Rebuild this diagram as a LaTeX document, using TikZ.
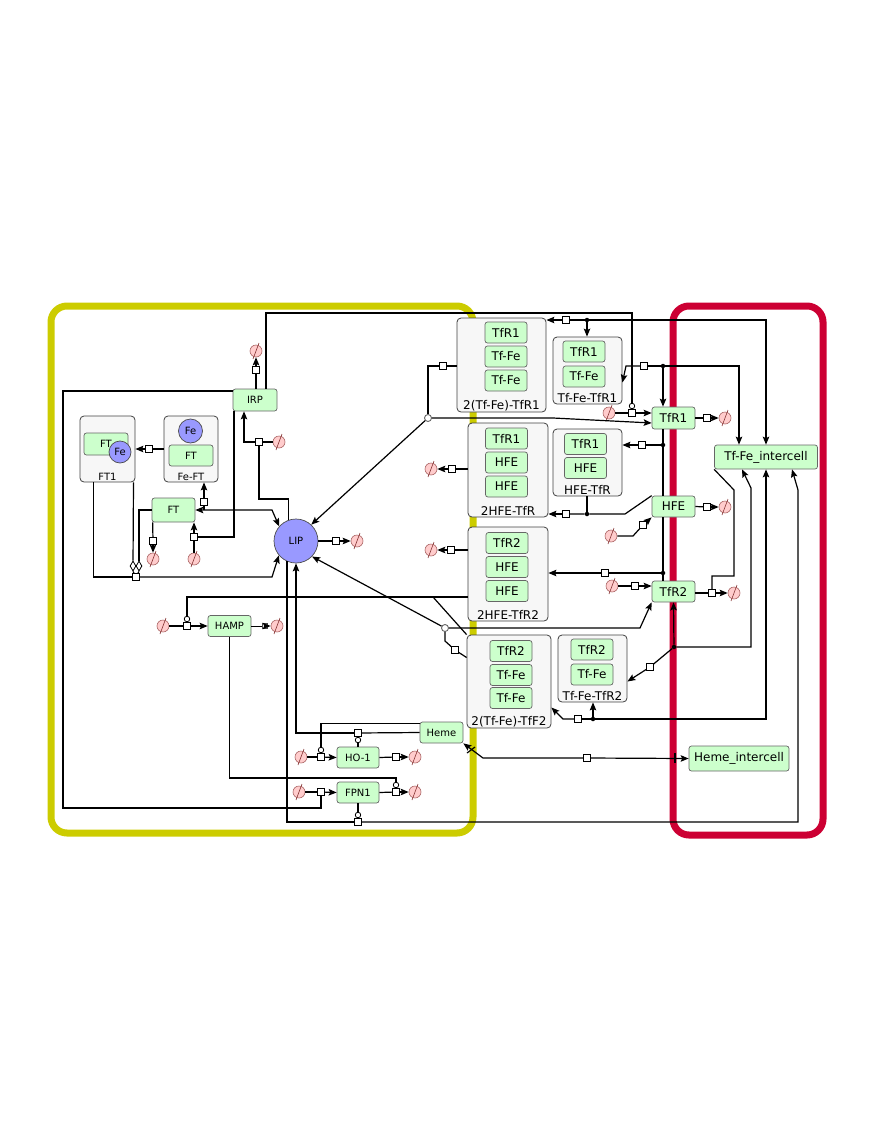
\documentclass[tikz,border=0pt]{standalone}
\usepackage{fontspec}
\setmainfont{DejaVu Sans}
\usetikzlibrary{arrows.meta,shapes.geometric}
\definecolor{protgreen}{RGB}{204,255,204}
\definecolor{cplxgray}{RGB}{247,247,247}
\definecolor{lipblue}{RGB}{153,153,255}
\definecolor{degpink}{RGB}{255,204,204}
\definecolor{cmpyellow}{RGB}{204,204,0}
\definecolor{cmpred}{RGB}{204,0,51}

\begin{document}
\begin{tikzpicture}[x=1pt,y=-1pt,>={Stealth[length=8pt,width=6.5pt,inset=1.5pt]}]
	\tikzset{
	%Define style for proteins
	prot/.style={
		rectangle,
		rounded corners=2.5pt,
		draw=black!60, line width=0.7pt,
		fill=protgreen,
		minimum width=43pt,
		minimum height=21pt,
		inner sep=1pt,
		font=\fontsize{10}{11}\selectfont},
	% big proteins and proteins inside complexes
	bigprot/.style={prot, minimum width=42pt, font=\fontsize{12}{13}\selectfont},
	% Define style for complexes
	cplx/.style={
		rectangle,
		rounded corners=4pt,
		draw=black!75, line width=0.8pt,
		fill=cplxgray},
	clab/.style={anchor=south, inner sep=1.5pt, font=\fontsize{12}{13}\selectfont},
	% Define style for degradation
	degr/.style={
		circle,
		draw=red!45!black!60, line width=0.6pt,
		fill=degpink,
		minimum size=12pt,
		inner sep=0pt,
		append after command={([xshift=-3pt,yshift=-8pt]\tikzlastnode.center) edge[red!40!black!80, line width=0.6pt] ([xshift=3pt,yshift=8pt]\tikzlastnode.center)}}
}
\tikzstyle{proc} = [rectangle, draw, fill=white, line width=0.9pt, minimum size=6.5pt, inner sep=0pt]
\tikzstyle{assoc} = [circle, fill=black, minimum size=4.5pt, inner sep=0pt]
\tikzstyle{dissoc} = [circle, draw=black!60, fill=white, line width=0.9pt, minimum size=7pt, inner sep=0pt]
\tikzstyle{catal} = [circle, draw, fill=white, line width=0.8pt, minimum size=5.5pt, inner sep=0pt]
\tikzstyle{modul} = [diamond, draw, fill=white, line width=0.8pt, minimum width=6pt, minimum height=10pt, inner sep=0pt]
\tikzstyle{molec} = [circle, draw=black!70, line width=0.7pt, fill=lipblue, inner sep=0pt, font=\fontsize{10}{11}\selectfont]

	\useasboundingbox (0,0) rectangle (883,1143);

	%compartments
	\draw[cmpyellow, line width=7pt, rounded corners=16pt] (51,306) rectangle (473,833);
	\draw[cmpred, line width=7pt, rounded corners=16pt] (673,306) rectangle (823,835);

	%proteins in the cell
	\node[prot, minimum width=44pt, minimum height=22pt] (irp) at (255,400) {IRP};
	\node[prot, minimum height=24pt] (ft) at (173.5,510) {FT};
	\node[prot] (hamp) at (229.5,626) {HAMP};
	\node[prot] (heme) at (441.5,732.5) {Heme};
	\node[prot, minimum width=42pt] (ho) at (358,757.5) {HO-1};
	\node[prot, minimum width=42pt] (fpn) at (358,792.5) {FPN1};
	\node[molec, minimum size=44pt] (lip) at (296,541) {LIP};

	%FT1 and Fe-FT
	\node[cplx, minimum width=55pt, minimum height=66pt, label={[clab, font=\fontsize{10}{11}\selectfont]south:FT1}] (ftone) at (107.5,449) {};
	\node[prot, minimum width=44pt, minimum height=22pt] (ftoneft) at (106,444) {FT};
	\node[molec, minimum size=22pt] (ftonefe) at (120,452) {Fe};
	\node[cplx, minimum width=54pt, minimum height=66pt, label={[clab, font=\fontsize{10}{11}\selectfont]south:Fe-FT}] (feft) at (191,449) {};
	\node[molec, minimum size=24pt] (feftfe) at (190.5,431) {Fe};
	\node[prot, minimum width=44pt] (feftft) at (191,455.5) {FT};

	%complexes with TfR1
	\node[cplx, minimum width=89pt, minimum height=94pt, label={[clab]south:2(Tf-Fe)-TfR1}] (tfr1c) at (501.5,365) {};
	\node[bigprot] (tfr1ca) at (506,332.5) {TfR1};
	\node[bigprot] (tfr1cb) at (506,356.5) {Tf-Fe};
	\node[bigprot] (tfr1cc) at (506,380.5) {Tf-Fe};
	\node[cplx, minimum width=69pt, minimum height=67pt, label={[clab]south:Tf-Fe-TfR1}] (tftfr1) at (587.5,370.5) {};
	\node[bigprot] (tftfr1a) at (584,351.5) {TfR1};
	\node[bigprot] (tftfr1b) at (584,376.5) {Tf-Fe};
	\node[cplx, minimum width=80pt, minimum height=94pt, label={[clab]south:2HFE-TfR}] (hfe2tfr) at (508,470) {};
	\node[bigprot] (hfe2tfra) at (506.5,438.5) {TfR1};
	\node[bigprot] (hfe2tfrb) at (506.5,462.5) {HFE};
	\node[bigprot] (hfe2tfrc) at (506.5,486.5) {HFE};
	\node[cplx, minimum width=69pt, minimum height=67pt, label={[clab]south:HFE-TfR}] (hfetfr) at (587.5,462.5) {};
	\node[bigprot] (hfetfra) at (585.5,444) {TfR1};
	\node[bigprot] (hfetfrb) at (585.5,468) {HFE};
	%complexes with TfR2
	\node[cplx, minimum width=80pt, minimum height=94pt, label={[clab]south:2HFE-TfR2}] (hfe2tfr2) at (508,574) {};
	\node[bigprot] (hfe2tfr2a) at (507,543) {TfR2};
	\node[bigprot] (hfe2tfr2b) at (507,567) {HFE};
	\node[bigprot] (hfe2tfr2c) at (507,591) {HFE};
	\node[cplx, minimum width=84pt, minimum height=93pt, label={[clab]south:2(Tf-Fe)-TfF2}] (tf2tfr2) at (509,681.5) {};
	\node[bigprot] (tf2tfr2a) at (511,651) {TfR2};
	\node[bigprot] (tf2tfr2b) at (511,675) {Tf-Fe};
	\node[bigprot] (tf2tfr2c) at (511,698) {Tf-Fe};
	\node[cplx, minimum width=69pt, minimum height=67pt, label={[clab]south:Tf-Fe-TfR2}] (tftfr2) at (592.5,668.5) {};
	\node[bigprot] (tftfr2a) at (592,649.5) {TfR2};
	\node[bigprot] (tftfr2b) at (592,674.5) {Tf-Fe};

	%membrane proteins and intercell species
	\node[bigprot, minimum width=43pt, minimum height=22pt] (tfr1) at (673.5,418) {TfR1};
	\node[bigprot, minimum width=43pt] (hfe) at (673.5,506.5) {HFE};
	\node[bigprot, minimum width=43pt] (tfr2) at (673.5,591.5) {TfR2};
	\node[bigprot, minimum width=103pt, minimum height=24pt] (tfint) at (766,457) {Tf-Fe\_intercell};
	\node[bigprot, minimum width=100pt, minimum height=25pt] (hemeint) at (739,758.5) {Heme\_intercell};

	%degradations
	\foreach \nm/\x/\y in {IRPdeg/256/351, IRPsyn/279/442, FTdeg/153/559, FTsyn/194/559,
		LIPdeg/357/541, HFEtwodeg/431/469, HFEtwoRdeg/431/550, TfRAsyn/609/413,
		TfRAdeg/725/418, HFEdeg/725/507, HFEsyn/611/536, TfRBsyn/612/586,
		TfRBdeg/734/593, HAMPsyn/163/626, HAMPdeg/277/626, HOsyn/301/757,
		HOdeg/415/757, FPNsyn/299/792, FPNdeg/415/792}
		\node[degr] (d\nm) at (\x,\y) {};

	%process nodes
	\foreach \nm/\x/\y in {IRPdeg/256/370, IRPsyn/259/442, FTdeg/153/541, FTsyn/194/537,
		FeFT/204/502, FTone/149/449, FToneLIP/136/577, LIPdeg/336/541,
		CplxAdis/443/366, CplxAass/566/320, TfRAass/644/366, TfRAsyn/632/413,
		TfRAdeg/707/418, HFETfR/642/445, HFEtwo/566/514, HFEtwodeg/452/469,
		HFEsyn/643/525, HFEdeg/707/507, HFEtwoR/605/573, HFEtwoRdeg/451/550,
		TfRBsyn/635/586, TfRBdeg/712/593, TfRBass/650/667, CplxBass/578/719,
		CplxBdis/455/650, HAMPsyn/187/626, HemeLIP/358/733, HOsyn/321/757,
		HOdeg/396/757, FPNsyn/321/792, FPNdeg/396/792, LIPexp/358/822, Heme/587/758}
		\node[proc] (p\nm) at (\x,\y) {};
	\node[proc, minimum size=5pt, draw=black!70, line width=0.6pt] (pHAMPdeg) at (265,626) {};

	\foreach \nm/\x/\y in {CplxA/587/320, TfRA/663/366, HFETfR/663/445, HFEtwo/587/514,
		HFEtwoR/663/573, TfRB/674/647, CplxB/593/719}
		\node[assoc] (a\nm) at (\x,\y) {};
	\node[dissoc] (xCplxA) at (428,418) {};
	\node[dissoc] (xCplxB) at (445,628) {};
	\foreach \nm/\x/\y in {TfRAsyn/632/406, HAMPsyn/187/619, HOsyn/321/750,
		HemeLIP/358/740, FPNdeg/396/785, LIPexp/358/815}
		\node[catal] (c\nm) at (\x,\y) {};
	\node[modul] (mFTone) at (133,566) {};
	\node[modul] (mFT) at (139,566) {};

	\begin{scope}[line width=1.2pt]
	%IRP
	\draw (pIRPdeg |- irp.north) -- (pIRPdeg);
	\draw[->] (pIRPdeg) -- (dIRPdeg);
	\draw (dIRPsyn) -- (pIRPsyn);
	\draw[->] (pIRPsyn) -| ([xshift=-11pt]irp.south);
	\draw (lip.110) -- ++(0,-21) -| (pIRPsyn);
	\draw ([xshift=11pt]irp.north) |- (632,313) -- (cTfRAsyn);
	\draw ([yshift=9pt]irp.west) -| (63,808) -| (pFPNsyn);
	\draw (pFTsyn) -| ([xshift=-21pt]irp.south);

	%FT, Fe-FT, FT1
	\draw ([xshift=1pt]ft.south west) -- (pFTdeg);
	\draw[->] (pFTdeg) -- (dFTdeg);
	\draw (dFTsyn) -- (pFTsyn);
	\draw[->] (pFTsyn) -- (pFTsyn |- ft.south);
	\draw[->] (pFeFT) -- (pFeFT |- feft.south);
	\draw (pFeFT) -- (pFeFT |- ft.east);
	\draw[<->] (ft.east) -- (272,510) -- (lip.139);
	\draw (feft.west) -- (pFTone);
	\draw[->] (pFTone) -- (ftone.east);
	\draw ([xshift=-14pt]ftone.south) |- (pFToneLIP);
	\draw[->] (pFToneLIP) -- (272,577) -- (lip.220);
	\draw ([xshift=26pt]ftone.south) -- (mFTone);
	\draw (ft.west) -| (mFT);
	\draw (mFTone.south) -- (pFToneLIP);
	\draw (mFT.south) -- (pFToneLIP);

	%LIP
	\draw (lip.east) -- (pLIPdeg);
	\draw[->] (pLIPdeg) -- (dLIPdeg);

	%2(Tf-Fe)-TfR1 and Tf-Fe-TfR1
	\draw (tfr1c.west |- pCplxAdis) -- (pCplxAdis) -| (xCplxA);
	\draw[->] (xCplxA) -- (lip.47);
	\draw[->] (xCplxA) -- (553,418) -- ([yshift=-5pt]tfr1.west);
	\draw[->] (pCplxAass) -- (tfr1c.east |- pCplxAass);
	\draw (aCplxA) -- (pCplxAass);
	\draw[->] (aCplxA) -- (aCplxA |- tftfr1.north);
	\draw[->] (aCplxA) -| (tfint.north);
	\draw[->] (pTfRAass) -- ++(-18,0) -- ([yshift=-12pt]tftfr1.east);
	\draw (aTfRA) -- (pTfRAass);
	\draw[->] (aTfRA) -- (aTfRA |- tfr1.north);
	\draw[->] (aTfRA) -| ([xshift=-27pt]tfint.north);

	%TfR1
	\draw (dTfRAsyn) -- (pTfRAsyn);
	\draw[->] (pTfRAsyn) -- (tfr1.west |- pTfRAsyn);
	\draw (tfr1.east) -- (pTfRAdeg);
	\draw[->] (pTfRAdeg) -- (dTfRAdeg);

	%HFE-TfR and 2HFE-TfR
	\draw[->] (pHFETfR) -- (hfetfr.east |- pHFETfR);
	\draw (aHFETfR) -- (pHFETfR);
	\draw (aHFETfR |- tfr1.south) -- (aHFETfR |- hfe.north);
	\draw[->] (pHFEtwo) -- (hfe2tfr.east |- pHFEtwo);
	\draw (hfe.north west) -- (625,514) -- (aHFEtwo) -- (pHFEtwo);
	\draw (aHFEtwo |- hfetfr.south) -- (aHFEtwo);
	\draw (hfe2tfr.west |- pHFEtwodeg) -- (pHFEtwodeg);
	\draw[->] (pHFEtwodeg) -- (dHFEtwodeg);

	%HFE
	\draw (dHFEsyn) -- (633,536) -- (pHFEsyn);
	\draw[->] (pHFEsyn) -- (hfe.south west);
	\draw (hfe.east) -- (pHFEdeg);
	\draw[->] (pHFEdeg) -- (dHFEdeg);

	%2HFE-TfR2
	\draw[->] (pHFEtwoR) -- (hfe2tfr2.east |- pHFEtwoR);
	\draw (aHFEtwoR) -- (pHFEtwoR);
	\draw (aHFEtwoR |- hfe.south) -- (aHFEtwoR |- tfr2.north);
	\draw (hfe2tfr2.west |- pHFEtwoRdeg) -- (pHFEtwoRdeg);
	\draw[->] (pHFEtwoRdeg) -- (dHFEtwoRdeg);

	%TfR2
	\draw (dTfRBsyn) -- (pTfRBsyn);
	\draw[->] (pTfRBsyn) -- (tfr2.west |- pTfRBsyn);
	\draw (tfr2.east |- pTfRBdeg) -- (pTfRBdeg);
	\draw[->] (pTfRBdeg) -- (dTfRBdeg);
	\draw (tfint.south west) -- (734,490) |- (712,576) -- (pTfRBdeg);

	%Tf-Fe-TfR2 and 2(Tf-Fe)-TfF2
	\draw[->] (aTfRB) -- (tfr2.south);
	\draw (aTfRB) -- (pTfRBass);
	\draw[->] (pTfRBass) -- ([yshift=-13pt]tftfr2.east);
	\draw[->] (aTfRB) -- (751,647) -- (751,488) -- ([xshift=-24pt]tfint.south);
	\draw[->] (aCplxB) -- (aCplxB |- tftfr2.south);
	\draw (aCplxB) -- (pCplxBass);
	\draw[->] (pCplxBass) -- (563,719) -- ([yshift=-26pt]tf2tfr2.east);
	\draw[->] (aCplxB) -| (tfint.south);
	\draw ([yshift=24pt]tf2tfr2.west) -- (pCplxBdis) -- (445,641) -- (xCplxB);
	\draw[->] (xCplxB) -- (lip.-44);
	\draw[->] (xCplxB) -- (640,628) -- (tfr2.south west);

	%HAMP
	\draw (dHAMPsyn) -- (pHAMPsyn);
	\draw[->] (pHAMPsyn) -- (hamp.west);
	\draw ([yshift=-23pt]hfe2tfr2.west) -| (cHAMPsyn);
	\draw (tf2tfr2.north west) -- (433,597);
	\draw[line width=0.7pt] (hamp.east) -- (pHAMPdeg);
	\draw[->] (pHAMPdeg) -- (dHAMPdeg);
	\draw (hamp.south) |- (396,778) -- (cFPNdeg);

	%Heme and HO-1
	\draw (heme.west) -- (pHemeLIP);
	\draw[->] (pHemeLIP) -| (lip.south);
	\draw (ho.north) -- (cHemeLIP);
	\draw ([yshift=9pt]heme.west) -| (cHOsyn);
	\draw[<-] (heme.south east) -- (483,758) -- (pHeme);
	\draw[->] (pHeme) -- (hemeint.west);
	\draw (675,753) -- (675,763);
	\draw (467,753) -- (475,747);
	\draw (dHOsyn) -- (pHOsyn);
	\draw[->] (pHOsyn) -- (ho.west);
	\draw (ho.east) -- (pHOdeg);
	\draw[->] (pHOdeg) -- (dHOdeg);

	%FPN1
	\draw (dFPNsyn) -- (pFPNsyn);
	\draw[->] (pFPNsyn) -- (fpn.west);
	\draw (fpn.east) -- (pFPNdeg);
	\draw[->] (pFPNdeg) -- (dFPNdeg);
	\draw (fpn.south) -- (cLIPexp);
	\draw (lip.246) |- (pLIPexp);
	\draw[->] (pLIPexp) -| (798,490) -- ([xshift=26pt]tfint.south);
	\end{scope}

\end{tikzpicture}
\end{document}
